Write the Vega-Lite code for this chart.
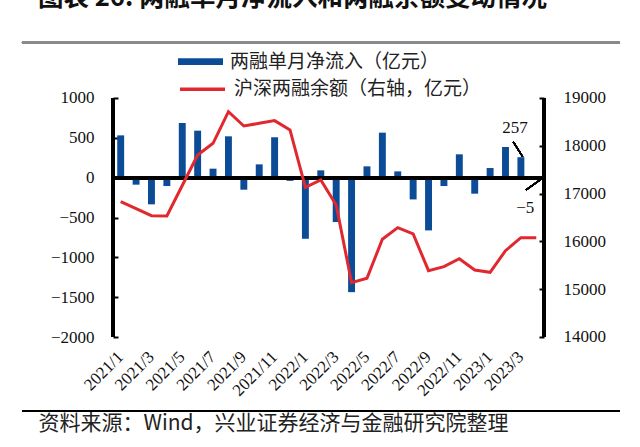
{
  "$schema": "https://vega.github.io/schema/vega-lite/v6.json",
  "width": 598,
  "height": 411.7,
  "autosize": {"type": "none"},
  "padding": {"left": 22, "top": 0, "right": 20, "bottom": 35.3},
  "background": "white",
  "title": {"text": "图表 26:  两融单月净流入和两融余额变动情况", "anchor": "start", "frame": "group", "font": "Noto Sans CJK SC", "fontSize": 25.5, "fontWeight": "bold", "color": "#111111", "dx": 16, "dy": 36, "offset": 0, "baseline": "bottom"},
  "config": {"view": {"stroke": null}, "font": "Noto Sans CJK SC"},
  "datasets": {
    "main": [
      {"month": "2021/1", "flow": 531, "balance": 16831},
      {"month": "2021/2", "flow": -88, "balance": 16684},
      {"month": "2021/3", "flow": -335, "balance": 16538},
      {"month": "2021/4", "flow": -105, "balance": 16531},
      {"month": "2021/5", "flow": 686, "balance": 17170},
      {"month": "2021/6", "flow": 590, "balance": 17808},
      {"month": "2021/7", "flow": 113, "balance": 18052},
      {"month": "2021/8", "flow": 519, "balance": 18713},
      {"month": "2021/9", "flow": -151, "balance": 18414},
      {"month": "2021/10", "flow": 167, "balance": 18470},
      {"month": "2021/11", "flow": 506, "balance": 18526},
      {"month": "2021/12", "flow": -40, "balance": 18331},
      {"month": "2022/1", "flow": -767, "balance": 17131},
      {"month": "2022/2", "flow": 92, "balance": 17285},
      {"month": "2022/3", "flow": -557, "balance": 16762},
      {"month": "2022/4", "flow": -1437, "balance": 15136},
      {"month": "2022/5", "flow": 142, "balance": 15228},
      {"month": "2022/6", "flow": 565, "balance": 16044},
      {"month": "2022/7", "flow": 79, "balance": 16287},
      {"month": "2022/8", "flow": -273, "balance": 16155},
      {"month": "2022/9", "flow": -662, "balance": 15387},
      {"month": "2022/10", "flow": -105, "balance": 15471},
      {"month": "2022/11", "flow": 293, "balance": 15638},
      {"month": "2022/12", "flow": -201, "balance": 15402},
      {"month": "2023/1", "flow": 121, "balance": 15354},
      {"month": "2023/2", "flow": 385, "balance": 15806},
      {"month": "2023/3", "flow": 257, "balance": 16077},
      {"month": "2023/4", "flow": -5, "balance": 16077}
    ]
  },
  "data": {"name": "main"},
  "resolve": {"scale": {"y": "independent"}, "axis": {"x": "independent", "y": "independent"}},
  "layer": [
    {
      "resolve": {"axis": {"x": "independent", "y": "independent"}},
      "layer": [
        {
          "mark": {"type": "bar"},
          "encoding": {
            "x": {
              "field": "month", "type": "nominal", "sort": null,
              "scale": {"type": "band", "domain": ["p1","p2","p3","p4","p5","p6","2021/1","2021/2","2021/3","2021/4","2021/5","2021/6","2021/7","2021/8","2021/9","2021/10","2021/11","2021/12","2022/1","2022/2","2022/3","2022/4","2022/5","2022/6","2022/7","2022/8","2022/9","2022/10","2022/11","2022/12","2023/1","2023/2","2023/3","2023/4","q1","q2","q3","q4"], "paddingInner": 0.55, "paddingOuter": 0.7, "align": 0.133, "round": false},
              "axis": {"orient": "bottom", "offset": 0, "domain": false, "ticks": false, "grid": false, "labelAngle": -45, "labelAlign": "right", "labelBaseline": "middle", "labelPadding": -57.7, "labelFont": "Liberation Serif", "labelFontSize": 17, "labelColor": "#111111", "labelOverlap": false, "values": ["2021/1","2021/3","2021/5","2021/7","2021/9","2021/11","2022/1","2022/3","2022/5","2022/7","2022/9","2022/11","2023/1","2023/3"],
                "title": "资料来源：Wind，兴业证券经济与金融研究院整理", "titleFont": "Noto Sans CJK SC", "titleFontSize": 21, "titleFontWeight": "normal", "titleColor": "#222222", "titleAnchor": "start", "titleAlign": "left", "titleX": 16, "titleY": 12, "titleBaseline": "middle", "titleAngle": 0}
            },
            "y": {
              "field": "flow", "type": "quantitative",
              "scale": {"domain": [-2937.6, 2230.1], "nice": false, "zero": false},
              "axis": {"orient": "left", "offset": -91, "title": null, "grid": false, "format": "d", "values": [-2000, -1500, -1000, -500, 0, 500, 1000], "domain": false, "tickColor": "#000000", "tickWidth": 2, "tickSize": -5, "labelPadding": 24, "labelFont": "Liberation Serif", "labelFontSize": 17, "labelColor": "#111111"}
            },
            "fill": {
              "datum": "两融单月净流入（亿元）", "type": "nominal",
              "scale": {"domain": ["两融单月净流入（亿元）"], "range": ["#0C4C97"]},
              "legend": {"orient": "none", "legendX": 156, "legendY": 39.2, "title": null, "symbolType": "M-1,-0.15L1,-0.15L1,0.15L-1,0.15Z", "symbolSize": 2025, "symbolStrokeWidth": 0, "labelFont": "Noto Sans CJK SC", "labelFontSize": 19, "labelOffset": 7, "labelLimit": 400, "labelColor": "#222222"}
            }
          }
        },
        {
          "mark": {"type": "rule", "color": "#000000", "strokeWidth": 3},
          "encoding": {
            "x": {"datum": "2021/1", "type": "nominal", "bandPosition": -0.611, "axis": null},
            "x2": {"datum": "2023/4", "bandPosition": 1.611},
            "y": {"datum": 0, "type": "quantitative", "axis": null}
          }
        },
        {
          "mark": {"type": "rule", "color": "#000000", "strokeWidth": 2.5},
          "encoding": {
            "x": {"datum": "2021/1", "type": "nominal", "bandPosition": -0.611, "axis": null},
            "y": {"datum": -2000, "type": "quantitative", "axis": null},
            "y2": {"datum": 1000}
          }
        },
        {
          "mark": {"type": "rule", "color": "#000000", "strokeWidth": 2.5},
          "encoding": {
            "x": {"datum": "2023/4", "type": "nominal", "bandPosition": 1.611, "axis": null},
            "y": {"datum": -2000, "type": "quantitative", "axis": null},
            "y2": {"datum": 1000}
          }
        },
        {
          "mark": {"type": "rule", "color": "#8A8A8A", "strokeWidth": 2},
          "encoding": {
            "x": {"datum": "2021/1", "type": "nominal", "bandPosition": -13.75, "axis": null},
            "x2": {"datum": "2023/4", "bandPosition": 12.58},
            "y": {"datum": 1694, "type": "quantitative", "axis": null}
          }
        },
        {
          "mark": {"type": "rule", "color": "#000000", "strokeWidth": 1.5},
          "encoding": {
            "x": {"datum": "2021/1", "type": "nominal", "bandPosition": -13.75, "axis": null},
            "x2": {"datum": "2023/4", "bandPosition": 12.58},
            "y": {"datum": -2930, "type": "quantitative", "axis": null}
          }
        },
        {
          "mark": {"type": "rule", "color": "#000000", "strokeWidth": 1.2},
          "encoding": {
            "x": {"datum": "2023/3", "type": "nominal", "bandPosition": -0.6, "axis": null},
            "x2": {"datum": "2023/3", "bandPosition": 0.76},
            "y": {"datum": 450, "type": "quantitative", "axis": null},
            "y2": {"datum": 262}
          }
        },
        {
          "mark": {"type": "rule", "color": "#000000", "strokeWidth": 1.2},
          "encoding": {
            "x": {"datum": "2023/4", "type": "nominal", "bandPosition": -0.99, "axis": null},
            "x2": {"datum": "2023/4", "bandPosition": 1.03},
            "y": {"datum": -155, "type": "quantitative", "axis": null},
            "y2": {"datum": -29}
          }
        },
        {
          "transform": [{"filter": "datum.month === '2023/3'"}],
          "mark": {"type": "text", "font": "Liberation Serif", "fontSize": 17, "color": "#111111", "align": "center", "baseline": "middle", "dx": -6, "dy": -29},
          "encoding": {
            "x": {"field": "month", "type": "nominal", "axis": null},
            "y": {"field": "flow", "type": "quantitative", "axis": null},
            "text": {"field": "flow", "type": "quantitative"}
          }
        },
        {
          "transform": [{"filter": "datum.month === '2023/4'"}],
          "mark": {"type": "text", "font": "Liberation Serif", "fontSize": 17, "color": "#111111", "align": "center", "baseline": "middle", "dx": -11, "dy": 30},
          "encoding": {
            "x": {"field": "month", "type": "nominal", "axis": null},
            "y": {"field": "flow", "type": "quantitative", "axis": null},
            "text": {"field": "flow", "type": "quantitative"}
          }
        }
      ]
    },
    {
      "mark": {"type": "line", "color": "#E0282E", "strokeWidth": 3},
      "encoding": {
        "x": {"field": "month", "type": "nominal", "sort": null, "axis": null},
        "y": {
          "field": "balance", "type": "quantitative",
          "scale": {"domain": [12437, 21050], "nice": false, "zero": false},
          "axis": {"orient": "right", "offset": -76, "title": null, "grid": false, "format": "d", "values": [14000, 15000, 16000, 17000, 18000, 19000], "domain": false, "tickColor": "#000000", "tickWidth": 2, "tickSize": -5, "labelPadding": 24, "labelFont": "Liberation Serif", "labelFontSize": 17, "labelColor": "#111111"}
        },
        "stroke": {
          "datum": "沪深两融余额（右轴，亿元）", "type": "nominal",
          "scale": {"domain": ["沪深两融余额（右轴，亿元）"], "range": ["#E0282E"]},
          "legend": {"orient": "none", "legendX": 156, "legendY": 64.8, "title": null, "symbolType": "M-1,0L1,0", "symbolSize": 2025, "symbolStrokeWidth": 3.5, "labelFont": "Noto Sans CJK SC", "labelFontSize": 19, "labelOffset": 7, "labelLimit": 400, "labelColor": "#222222"}
        }
      }
    }
  ]
}
